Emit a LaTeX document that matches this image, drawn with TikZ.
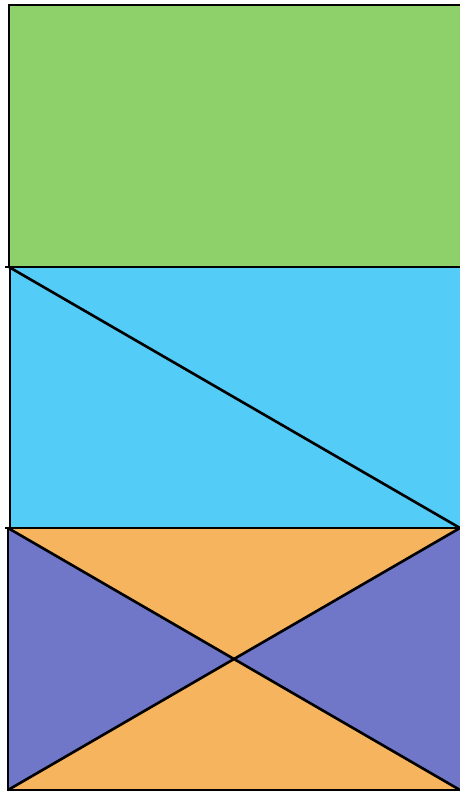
\documentclass[tikz,border=0pt]{standalone}
\usepackage{tikz}

\definecolor{leafgreen}{HTML}{8ED16B}
\definecolor{skyblue}{HTML}{53CCF8}
\definecolor{sandorange}{HTML}{F6B45E}
\definecolor{slatepurple}{HTML}{7077C9}

\begin{document}
\begin{tikzpicture}[x=0.02cm,y=-0.02cm,
        edge/.style={draw=black, line width=1.5pt, line join=miter}]
        \useasboundingbox (0,0) rectangle (460,796);
        \clip (0,0) rectangle (460,796);

        \coordinate (g1) at (9,5);
        \coordinate (g2) at (470,5);
        \coordinate (m1) at (9,267);
        \coordinate (m2) at (470,267);
        \coordinate (n1) at (10,267);
        \coordinate (b0) at (10,528);
        \coordinate (b1) at (8,528);
        \coordinate (b2) at (460,528);
        \coordinate (b3) at (470,528);
        \coordinate (c1) at (8,790);
        \coordinate (c2) at (460,790);
        \coordinate (c3) at (470,790);
        \coordinate (x) at (234,659);

        % fills
        \fill[leafgreen] (g1) rectangle (m2);
        \fill[skyblue] (n1) rectangle (b3);
        \fill[slatepurple] (b1) rectangle (c3);
        \fill[sandorange] (b1) -- (b2) -- (x) -- cycle;
        \fill[sandorange] (c1) -- (c2) -- (x) -- cycle;

        % outlines
        \draw[edge] (g2) -- (g1) -- (m1);
        \draw[edge] (n1) -- (b0);
        \draw[edge] (b1) -- (c1) -- (c3);
        \draw[edge] (5,267) -- (m2);
        \draw[edge] (5,528) -- (b3);
        \draw[edge] (m1) -- (b2);
        \draw[edge] (b1) -- (c2);
        \draw[edge] (c1) -- (b2);
\end{tikzpicture}
\end{document}
